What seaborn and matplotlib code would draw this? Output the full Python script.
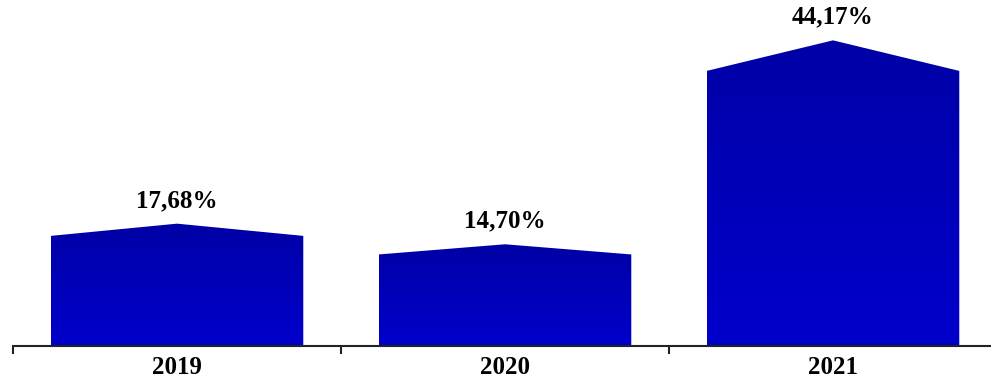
import numpy as np
import pandas as pd
import matplotlib
matplotlib.use("Agg")
import matplotlib.pyplot as plt
import seaborn as sns
from matplotlib.patches import Polygon
from matplotlib.colors import LinearSegmentedColormap

years = ["2019", "2020", "2021"]
values = [17.68, 14.70, 44.17]
labels = ["17,68%", "14,70%", "44,17%"]

df = pd.DataFrame({"year": years, "value": values})
roof = 0.1  # share of the bar taken by the pointed top

sns.set_style("white")
plt.rcParams["font.family"] = ["Liberation Serif", "DejaVu Serif"]

fig = plt.figure(figsize=(9.91, 3.78), dpi=100)
ax = fig.add_axes([13 / 991, 32 / 378, 984 / 991, 346 / 378])

df["body"] = df["value"] * (1 - roof)
sns.barplot(data=df, x="year", y="body", color="#0000c0", width=0.77,
            saturation=1, ax=ax)

cmap = LinearSegmentedColormap.from_list("blu", ["#0000a6", "#0000cc"])
grad = np.linspace(0, 1, 256).reshape(-1, 1)

for bar, v, lab in zip(list(ax.patches), values, labels):
    x0 = bar.get_x()
    w = bar.get_width()
    h = bar.get_height()
    bar.set_visible(False)
    pts = [(x0, 0), (x0, h), (x0 + w / 2, v), (x0 + w, h), (x0 + w, 0)]
    poly = Polygon(pts, closed=True, facecolor="none", edgecolor="none")
    ax.add_patch(poly)
    im = ax.imshow(grad, cmap=cmap, aspect="auto", extent=[x0, x0 + w, 0, v],
                   origin="upper", zorder=2)
    im.set_clip_path(poly)
    ax.text(x0 + w / 2, v + 1.7, lab, ha="center", va="bottom",
            fontsize=18, fontweight="bold", color="black")

ax.set_xlim(-0.5, 2.5)
ax.set_ylim(0, 50)
ax.set_xlabel("")
ax.set_ylabel("")
ax.set_yticks([])
ax.set_xticks([-0.5, 0.5, 1.5], labels=[])
ax.set_xticks([0, 1, 2], minor=True)
ax.set_xticklabels(years, minor=True, fontsize=18, fontweight="bold",
                   color="black")
ax.tick_params(axis="x", which="major", direction="out", length=6, width=1.5,
               color="#222222", bottom=True)
ax.tick_params(axis="x", which="minor", length=0, pad=7)
for s in ["top", "right", "left"]:
    ax.spines[s].set_visible(False)
ax.spines["bottom"].set_color("#222222")
ax.spines["bottom"].set_linewidth(1.5)

fig.savefig("out.png", dpi=100)
